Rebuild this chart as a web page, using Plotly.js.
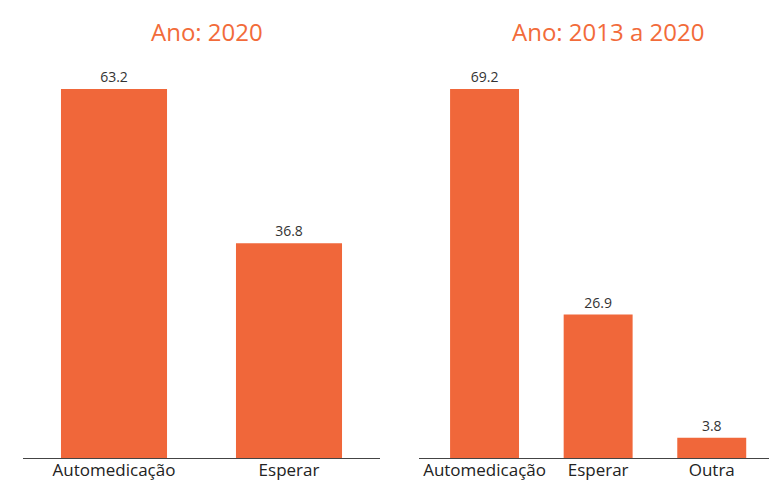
<!DOCTYPE html>
<html>
<head>
<meta charset="utf-8">
<script src="https://cdn.plot.ly/plotly-3.0.1.min.js"></script>
<style>html,body{margin:0;padding:0;background:#fff;}#chart{width:769px;height:480px;}</style>
</head>
<body>
<div id="chart"></div>
<script>
// Data
const titles = ["Ano: 2020", "Ano: 2013 a 2020"];
const cats2020 = ["Automedicação", "Esperar"];
const vals2020 = [63.2, 36.8];
const catsAll = ["Automedicação", "Esperar", "Outra"];
const valsAll = [69.2, 26.9, 3.8];

const barColor = "#F0673A";
const titleColor = "#F26B3A";
const font = "'Open Sans', 'Noto Sans', sans-serif";

const W = 769, ML = 23, PW = W - ML;
function px(x) { return (x - ML) / PW; }

const traces = [
  {
    type: "bar", x: cats2020, y: vals2020, xaxis: "x", yaxis: "y",
    marker: { color: barColor }, width: 0.606,
    text: vals2020.map(v => v.toFixed(1)), textposition: "outside",
    textfont: { family: font, size: 14, color: "#333" },
    cliponaxis: false, hoverinfo: "none"
  },
  {
    type: "bar", x: catsAll, y: valsAll, xaxis: "x2", yaxis: "y2",
    marker: { color: barColor }, width: 0.607,
    text: valsAll.map(v => v.toFixed(1)), textposition: "outside",
    textfont: { family: font, size: 14, color: "#333" },
    cliponaxis: false, hoverinfo: "none"
  }
];

const xcommon = {
  showline: true, linecolor: "#444", linewidth: 1, ticks: "", showgrid: false,
  zeroline: false, fixedrange: true, automargin: false, ticklabelstandoff: -3,
  tickfont: { family: font, size: 17, color: "#222" }
};
const ycommon = { visible: false, showgrid: false, zeroline: false, automargin: false };

const layout = {
  width: 769, height: 480,
  margin: { l: ML, r: 0, t: 89, b: 22 },
  paper_bgcolor: "#fff", plot_bgcolor: "#fff",
  showlegend: false,
  font: { family: font },
  xaxis: Object.assign({}, xcommon, { domain: [0, px(380)], range: [-0.52, 1.52], anchor: "y" }),
  xaxis2: Object.assign({}, xcommon, { domain: [px(419), 1], range: [-0.577, 2.504], anchor: "y2" }),
  yaxis: Object.assign({}, ycommon, { range: [0, vals2020[0]], anchor: "x" }),
  yaxis2: Object.assign({}, ycommon, { range: [0, valsAll[0]], anchor: "x2" }),
  annotations: [
    { text: titles[0], xref: "paper", yref: "paper", x: px(207), y: 0, yanchor: "middle", xanchor: "center",
      showarrow: false, font: { family: font, size: 24, color: titleColor } },
    { text: titles[1], xref: "paper", yref: "paper", x: px(608), y: 0, yanchor: "middle", xanchor: "center",
      showarrow: false, font: { family: font, size: 24, color: titleColor } }
  ]
};
// annotation y in paper: paper spans pixel 89..458 (bottom=0). y pixel 31 -> (458-31)/369
layout.annotations.forEach(a => { a.y = (458 - 31) / 369; });

Plotly.newPlot("chart", traces, layout, { displayModeBar: false, staticPlot: true });
</script>
</body>
</html>
